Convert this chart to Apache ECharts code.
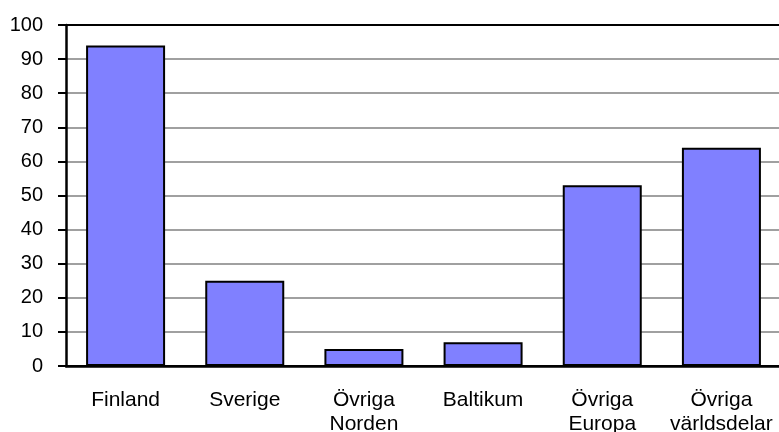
<!DOCTYPE html>
<html>
<head>
<meta charset="utf-8">
<script src="https://cdn.jsdelivr.net/npm/echarts@6/dist/echarts.min.js"></script>
<style>
html,body{margin:0;padding:0;background:#fff;}
#chart{width:779px;height:432px;}
</style>
</head>
<body>
<div id="chart"></div>
<script>
const categories = ['Finland', 'Sverige', 'Övriga\nNorden', 'Baltikum', 'Övriga\nEuropa', 'Övriga\nvärldsdelar'];
const values = [94, 25, 5, 7, 53, 64];
const yTicks = [0, 10, 20, 30, 40, 50, 60, 70, 80, 90, 100];

const FONT = '"Liberation Sans", Arial, sans-serif';
const gridColors = yTicks.map((t, i) => (i === 0 || i === yTicks.length - 1) ? '#000000' : '#a0a0a0');

const chart = echarts.init(document.getElementById('chart'), null, {renderer: 'canvas'});
chart.setOption({
  animation: false,
  backgroundColor: '#ffffff',
  grid: {left: 66, top: 25, width: 715, bottom: 66, containLabel: false, outerBoundsMode: 'none'},
  xAxis: {
    type: 'category',
    data: categories,
    axisLine: {show: true, lineStyle: {color: '#000', width: 2.5}},
    axisTick: {show: false},
    axisLabel: {
      color: '#000', fontFamily: FONT, fontSize: 21, lineHeight: 24,
      margin: 22, interval: 0
    },
    z: 5
  },
  yAxis: {
    type: 'value',
    min: yTicks[0],
    max: yTicks[yTicks.length - 1],
    interval: 10,
    axisLine: {show: true, lineStyle: {color: '#000', width: 2.5}},
    axisTick: {show: true, inside: false, length: 8, lineStyle: {color: '#000', width: 2}},
    axisLabel: {color: '#000', fontFamily: FONT, fontSize: 20, margin: 23},
    splitLine: {show: true, lineStyle: {color: gridColors, width: 2}}
  },
  series: [{
    type: 'bar',
    data: values,
    barWidth: 79,
    itemStyle: {color: '#8080ff', borderColor: '#000000', borderWidth: 2},
    z: 3
  }]
});
</script>
</body>
</html>
